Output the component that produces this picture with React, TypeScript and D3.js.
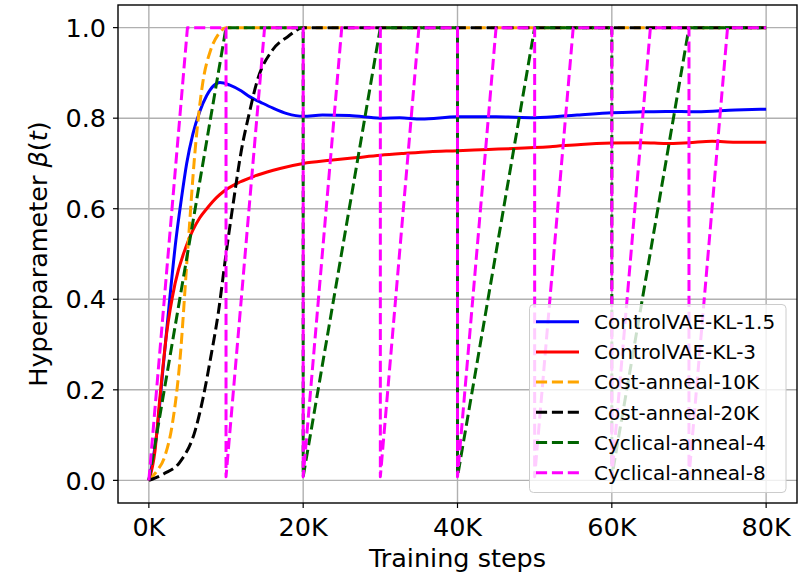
import * as d3 from "d3";

// training steps are in thousands (K)
const klSteps15 = [0, 1, 1.85, 2.7, 3.5, 4.2, 4.9, 5.7, 6.6, 7.5, 8.4, 9.2, 10.5, 12, 13.1, 14.5, 16.1, 17.9, 20, 22.5, 26, 30, 32.5, 35.3, 40, 45, 50, 55.5, 60, 64, 67, 71, 76, 80];
const klValues15 = [0, 0.1, 0.25, 0.4, 0.53, 0.62, 0.7, 0.765, 0.815, 0.85, 0.872, 0.879, 0.873, 0.86, 0.847, 0.835, 0.822, 0.81, 0.804, 0.807, 0.806, 0.8, 0.801, 0.798, 0.803, 0.803, 0.801, 0.807, 0.812, 0.814, 0.815, 0.814, 0.818, 0.82];

const klSteps3 = [0, 0.8, 1.4, 2.3, 3.4, 4.9, 6.6, 7.5, 8.8, 9.6, 11.8, 14, 17, 20, 23.5, 27, 30, 33, 36.4, 40, 44, 47.2, 52, 56, 60, 64, 67, 70, 73, 76, 80];
const klValues3 = [0, 0.066, 0.177, 0.324, 0.435, 0.52, 0.58, 0.6, 0.625, 0.637, 0.659, 0.674, 0.689, 0.7, 0.707, 0.713, 0.718, 0.722, 0.726, 0.728, 0.731, 0.733, 0.737, 0.742, 0.745, 0.746, 0.744, 0.746, 0.749, 0.747, 0.747];

const cost10Steps = [0, 1, 2, 3, 4, 5, 6, 7, 8, 9, 10, 80];
const cost10Values = [0, 0.02, 0.05, 0.12, 0.26, 0.5, 0.73, 0.88, 0.95, 0.985, 1, 1];

const cost20Steps = [0, 2, 4, 6, 7, 8, 9, 10, 11, 12, 13, 14, 16, 18, 20, 80];
const cost20Values = [0, 0.015, 0.04, 0.11, 0.18, 0.27, 0.37, 0.5, 0.62, 0.73, 0.81, 0.88, 0.95, 0.98, 1, 1];

const cyc4Steps = [0, 10, 20, 20, 30, 40, 40, 50, 60, 60, 70, 80];
const cyc4Values = [0, 1, 1, 0.008, 1, 1, 0.008, 1, 1, 0.008, 1, 1];

const cyc8Steps = [0, 5, 10, 10, 15, 20, 20, 25, 30, 30, 35, 40, 40, 45, 50, 50, 55, 60, 60, 65, 70, 70, 75, 80];
const cyc8Values = [0, 1, 1, 0.008, 1, 1, 0.008, 1, 1, 0.008, 1, 1, 0.008, 1, 1, 0.008, 1, 1, 0.008, 1, 1, 0.008, 1, 1];

const seriesNames = ["ControlVAE-KL-1.5", "ControlVAE-KL-3", "Cost-anneal-10K", "Cost-anneal-20K", "Cyclical-anneal-4", "Cyclical-anneal-8"];
const seriesColors = ["blue", "red", "orange", "black", "darkgreen", "magenta"];
const seriesDashed = [false, false, true, true, true, true];
const seriesSmooth = [true, true, true, true, false, false];

const xTicks = [0, 20, 40, 60, 80];
const yTicks = [0, 0.2, 0.4, 0.6, 0.8, 1.0];

const width = 808;
const height = 574;
const margin = { left: 118, top: 5, right: 11, bottom: 71 };
const font = "DejaVu Sans, sans-serif";
const dash = "11.1,4.8";

export default function App() {
  const xScale = d3.scaleLinear().domain([-4, 84]).range([margin.left, width - margin.right]);
  const yScale = d3.scaleLinear().domain([-0.05, 1.05]).range([height - margin.bottom, margin.top]);

  const allSteps = [klSteps15, klSteps3, cost10Steps, cost20Steps, cyc4Steps, cyc8Steps];
  const allValues = [klValues15, klValues3, cost10Values, cost20Values, cyc4Values, cyc8Values];

  const series = seriesNames.map((name, i) => ({
    name,
    color: seriesColors[i],
    dashed: seriesDashed[i],
    points: allSteps[i].map((s, j) => [s, allValues[i][j]] as [number, number]),
    smooth: seriesSmooth[i],
  }));

  const makeLine = (smooth: boolean) =>
    d3
      .line<[number, number]>()
      .x((d) => xScale(d[0]))
      .y((d) => yScale(d[1]))
      .curve(smooth ? d3.curveMonotoneX : d3.curveLinear);

  const x0 = margin.left;
  const x1 = width - margin.right;
  const y0 = margin.top;
  const y1 = height - margin.bottom;

  const legendX = 529.5;
  const legendY = 304.5;

  return (
    <svg
      width={width}
      height={height}
      style={{ position: "absolute", left: 0, top: 0, background: "white" }}
      fontFamily={font}
    >
      <defs>
        <clipPath id="plot-clip">
          <rect x={x0} y={y0} width={x1 - x0} height={y1 - y0} />
        </clipPath>
      </defs>

      {/* grid */}
      {xTicks.map((t) => (
        <line key={"gx" + t} x1={xScale(t)} x2={xScale(t)} y1={y0} y2={y1} stroke="#b0b0b0" strokeWidth={1.4} />
      ))}
      {yTicks.map((t) => (
        <line key={"gy" + t} x1={x0} x2={x1} y1={yScale(t)} y2={yScale(t)} stroke="#b0b0b0" strokeWidth={1.4} />
      ))}

      <g clipPath="url(#plot-clip)">
        {series.map((s) => (
          <path
            key={s.name}
            d={makeLine(s.smooth)(s.points) ?? ""}
            fill="none"
            stroke={s.color}
            strokeWidth={3}
            strokeDasharray={s.dashed ? dash : undefined}
            strokeLinejoin="round"
          />
        ))}
      </g>

      {/* spines */}
      <rect x={x0} y={y0} width={x1 - x0} height={y1 - y0} fill="none" stroke="black" strokeWidth={1.4} />

      {/* x axis */}
      {xTicks.map((t) => (
        <g key={"xt" + t} transform={`translate(${xScale(t)},${y1})`}>
          <line y1={0} y2={5} stroke="black" strokeWidth={1.2} />
          <text y={33} textAnchor="middle" fontSize={25.5}>
            {t}K
          </text>
        </g>
      ))}
      <text x={(x0 + x1) / 2} y={567} textAnchor="middle" fontSize={25.5}>
        Training steps
      </text>

      {/* y axis */}
      {yTicks.map((t) => (
        <g key={"yt" + t} transform={`translate(${x0},${yScale(t)})`}>
          <line x1={0} x2={-5} stroke="black" strokeWidth={1.2} />
          <text x={-12} textAnchor="end" dy="0.36em" fontSize={25.5}>
            {t.toFixed(1)}
          </text>
        </g>
      ))}
      <text
        transform={`translate(47,${(y0 + y1) / 2}) rotate(-90)`}
        textAnchor="middle"
        fontSize={25.5}
      >
        Hyperparameter <tspan fontStyle="italic">β</tspan>(<tspan fontStyle="italic">t</tspan>)
      </text>

      {/* legend */}
      <rect
        x={legendX}
        y={legendY}
        width={256.5}
        height={188}
        rx={4}
        fill="white"
        fillOpacity={0.8}
        stroke="#cccccc"
        strokeWidth={1}
      />
      {series.map((s, i) => {
        const cy = legendY + 17.2 + i * 30.2;
        return (
          <g key={"lg" + s.name}>
            <line
              x1={536}
              x2={579}
              y1={cy}
              y2={cy}
              stroke={s.color}
              strokeWidth={3}
              strokeDasharray={s.dashed ? dash : undefined}
            />
            <text x={594} y={cy} dy="0.36em" fontSize={20}>
              {s.name}
            </text>
          </g>
        );
      })}
    </svg>
  );
}
